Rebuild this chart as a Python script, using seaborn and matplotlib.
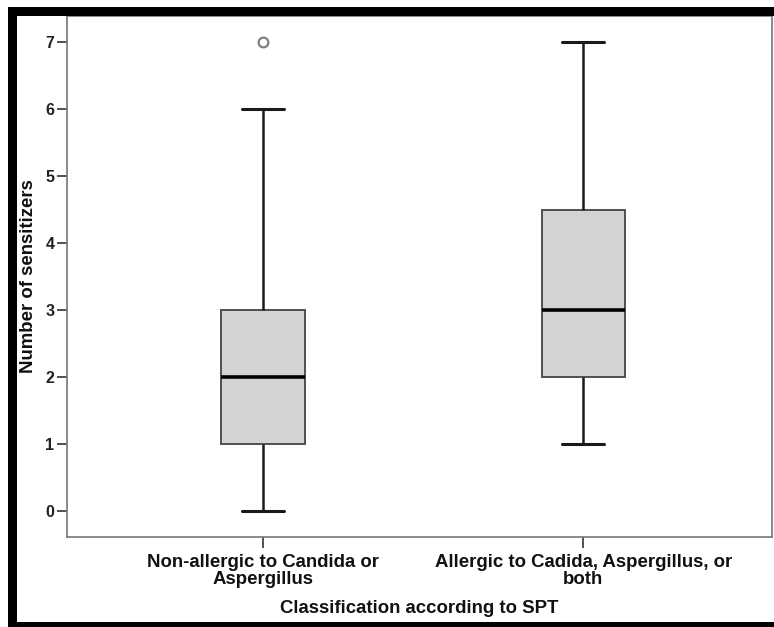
import matplotlib
matplotlib.use("Agg")
import matplotlib.pyplot as plt
import seaborn as sns
import pandas as pd
from matplotlib.patches import Rectangle

categories = ["Non-allergic to Candida or\nAspergillus",
              "Allergic to Cadida, Aspergillus, or\nboth"]
group1_values = [0, 1, 1, 1, 1, 2, 2, 2, 2, 3, 3, 3, 3, 5, 6, 7]
group2_values = [1, 2, 2, 2, 3, 3, 4, 4, 5, 6, 7]
yticks = [0, 1, 2, 3, 4, 5, 6, 7]

df = pd.DataFrame({
    "group": [categories[0]] * len(group1_values) + [categories[1]] * len(group2_values),
    "value": group1_values + group2_values,
})

sns.set_style("white")
plt.rcParams['font.family'] = ['Liberation Sans', 'DejaVu Sans']

fig = plt.figure(figsize=(7.74, 6.27), dpi=100)
fig.patch.set_facecolor("white")
ax = fig.add_axes([67/774, 1 - 537/627, (772 - 67)/774, (537 - 16)/627])

sns.boxplot(data=df, x="group", y="value", order=categories, ax=ax,
            width=0.26, color="#d3d3d3", saturation=1, whis=1.5,
            boxprops=dict(facecolor="#d3d3d3", edgecolor="#505050", linewidth=1.4),
            whiskerprops=dict(color="#1a1a1a", linewidth=1.8),
            capprops=dict(color="#1a1a1a", linewidth=2.2),
            medianprops=dict(color="black", linewidth=2.6),
            flierprops=dict(marker="o", markerfacecolor="white", markeredgecolor="#808080",
                            markersize=7, markeredgewidth=1.6))

ax.set_xlim(-0.6125, 1.59)
ax.set_ylim(-0.39, 7.39)
ax.set_yticks(yticks)
ax.set_yticklabels([str(t) for t in yticks], fontsize=11.5, fontweight="bold", color="#222222")
ax.set_xticks([0, 1])
ax.set_xticklabels(categories, fontsize=13.4, fontweight="bold", color="#111111", linespacing=1.0)
ax.tick_params(axis="y", direction="out", length=7, width=1.2, color="#333333", pad=2, left=True)
ax.tick_params(axis="x", direction="out", length=8, width=1.2, color="#333333", pad=4, bottom=True)
ax.set_xlabel("Classification according to SPT", fontsize=13.4, fontweight="bold",
              color="#111111", labelpad=9)
ax.set_ylabel("Number of sensitizers", fontsize=13.4, fontweight="bold", color="#111111", labelpad=6)

for s in ax.spines.values():
    s.set_color("#777777")
    s.set_linewidth(1.2)
    s.set_visible(True)

W, H = 774, 627
def frac_rect(x0, y0, x1, y1):
    return Rectangle((x0 / W, 1 - y1 / H), (x1 - x0) / W, (y1 - y0) / H,
                     transform=fig.transFigure, facecolor="black", edgecolor="none", zorder=10)

fig.patches.extend([
    frac_rect(8, 7, 17, 627),
    frac_rect(8, 7, 774, 16),
    frac_rect(8, 622, 774, 627),
])

fig.savefig("out.png", dpi=100, facecolor="white")
